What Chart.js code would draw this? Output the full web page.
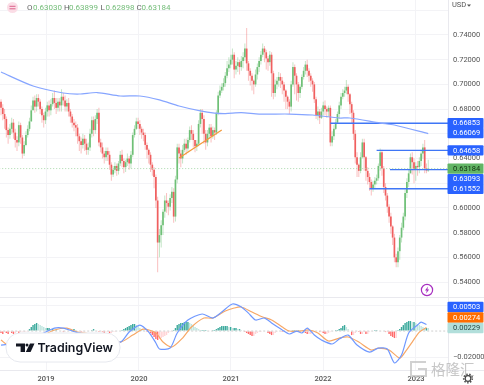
<!DOCTYPE html>
<html><head><meta charset="utf-8">
<style>html,body{margin:0;padding:0;background:#fff;overflow:hidden}canvas{display:block;filter:blur(.35px)}</style>
<script src="https://cdn.jsdelivr.net/npm/chart.js@4"></script></head>
<body><canvas id="c" width="484" height="385"></canvas>
<script>
const yearWeeks=[25.3,77.5,129.2,180.9,233.1];
const yearLabels=['2019','2020','2021','2022','2023'];
const closes=[.681,.676,.672,.663,.659,.664,.669,.661,.655,.653,
.667,.657,.644,.651,.659,.664,.670,.679,.687,.682,
.689,.686,.680,.675,.671,.678,.683,.679,.684,.689,
.685,.681,.686,.683,.690,.687,.682,.685,.678,.674,
.669,.667,.665,.658,.654,.651,.656,.652,.647,.649,
.660,.671,.663,.672,.677,.653,.649,.644,.641,.646,
.643,.635,.627,.631,.634,.630,.636,.643,.638,.633,
.637,.640,.636,.643,.659,.664,.670,.668,.664,.661,
.659,.651,.647,.643,.635,.631,.625,.606,.572,.578,
.586,.597,.606,.604,.601,.608,.613,.593,.623,.649,
.644,.640,.647,.652,.648,.655,.663,.660,.655,.650,
.652,.668,.677,.672,.660,.653,.660,.665,.658,.663,
.661,.677,.691,.695,.698,.701,.707,.713,.716,.720,
.724,.712,.715,.718,.714,.719,.722,.729,.717,.711,
.707,.703,.700,.708,.714,.719,.724,.729,.726,.721,
.718,.724,.709,.693,.700,.703,.706,.703,.700,.695,
.690,.686,.682,.700,.714,.707,.700,.693,.698,.706,
.711,.716,.711,.707,.703,.700,.688,.675,.678,.673,
.678,.683,.680,.678,.681,.653,.658,.664,.669,.676,
.683,.690,.693,.695,.698,.692,.684,.677,.660,.641,
.635,.630,.641,.653,.641,.630,.625,.621,.616,.619,
.622,.624,.634,.645,.632,.617,.610,.601,.593,.585,
.576,.560,.556,.565,.576,.584,.593,.612,.621,.628,
.641,.637,.631,.634,.633,.638,.644,.649,.632,.6303,.63184];
const highs=[.688,.684,.680,.674,.665,.668,.673,.672,.664,.658,
.670,.669,.659,.654,.662,.667,.673,.683,.690,.691,
.692,.692,.688,.682,.677,.681,.686,.687,.688,.693,
.695,.689,.689,.689,.696,.693,.691,.688,.689,.680,
.676,.672,.670,.668,.660,.657,.660,.659,.656,.653,
.664,.674,.674,.675,.680,.681,.656,.653,.646,.649,
.649,.646,.637,.634,.637,.636,.638,.646,.647,.640,
.639,.644,.642,.646,.661,.667,.673,.673,.671,.666,
.664,.661,.653,.648,.645,.637,.633,.627,.609,.583,
.590,.599,.610,.612,.606,.611,.617,.616,.626,.652,
.652,.647,.651,.656,.656,.657,.666,.667,.663,.655,
.655,.671,.680,.680,.675,.663,.663,.668,.668,.666,
.665,.679,.694,.699,.701,.705,.710,.719,.722,.724,
.729,.726,.719,.722,.720,.723,.726,.733,.7457,.719,
.713,.709,.704,.712,.717,.722,.727,.733,.731,.728,
.723,.727,.726,.711,.704,.706,.710,.709,.706,.702,
.696,.691,.688,.703,.718,.716,.709,.702,.700,.708,
.714,.719,.720,.713,.709,.705,.702,.690,.682,.680,
.681,.686,.687,.682,.683,.683,.662,.667,.672,.678,
.686,.693,.696,.698,.7035,.700,.693,.686,.679,.663,
.645,.636,.645,.656,.656,.642,.633,.628,.623,.622,
.625,.627,.636,.648,.647,.634,.620,.612,.603,.596,
.586,.579,.563,.568,.578,.588,.596,.615,.624,.631,
.644,.645,.640,.637,.638,.641,.647,.652,.655,.636,.63899];
const lows=[.675,.671,.664,.657,.652,.656,.660,.656,.649,.646,
.650,.652,.640,.642,.650,.657,.662,.670,.679,.677,
.678,.682,.676,.669,.665,.668,.674,.674,.675,.682,
.680,.676,.678,.678,.678,.683,.678,.678,.674,.669,
.665,.662,.658,.652,.646,.644,.648,.646,.643,.643,
.646,.657,.658,.660,.668,.650,.645,.640,.636,.638,
.638,.631,.622,.625,.628,.626,.627,.634,.633,.628,
.629,.634,.631,.632,.641,.657,.663,.664,.659,.656,
.654,.647,.640,.636,.629,.626,.616,.600,.548,.560,
.568,.578,.592,.596,.594,.598,.604,.588,.589,.620,
.636,.633,.636,.645,.643,.645,.653,.655,.649,.645,
.646,.650,.665,.660,.652,.647,.650,.656,.653,.656,
.655,.659,.675,.689,.693,.695,.698,.705,.710,.713,
.716,.705,.708,.710,.708,.711,.713,.719,.711,.703,
.699,.695,.692,.698,.704,.710,.716,.722,.718,.712,
.711,.715,.690,.688,.690,.696,.698,.697,.692,.686,
.680,.680,.676,.678,.698,.692,.687,.686,.689,.696,
.704,.708,.706,.702,.698,.694,.685,.672,.671,.668,
.672,.675,.675,.673,.674,.650,.650,.655,.663,.668,
.672,.680,.688,.690,.692,.686,.676,.668,.655,.636,
.625,.625,.628,.640,.630,.622,.619,.614,.610,.613,
.616,.619,.622,.630,.626,.612,.606,.596,.588,.579,
.570,.556,.552,.552,.558,.572,.582,.590,.608,.617,
.628,.627,.620,.622,.626,.628,.634,.640,.628,.628,.62898];
const maWeeks=[0,18,35,44,54,67,78,89,100,112,120,126,135,145,162,175,190,196,213,221,240];
const maValues=[.7100,.6987,.6930,.6922,.6934,.6906,.6906,.6874,.6825,.6785,.6768,.6764,.6771,.6760,.6760,.6752,.6728,.6728,.6687,.6671,.6601];
const trendWeeks=[100,124];
const trendValues=[.6404,.6631];
const levelValues=[.66853,.64658,.63093,.61552];
const levelStarts=[185,211,218.5,207];
const lastClose=.63184;
const macdWeeks=[0,13,24,30,35,42,53,67,72,78,83,87,89,95,99,105,113,119,124,130,135,139,143,148,152,158,162,166,169,172,176,180,186,190,195,200,207,212,217,221,225,229,234,236,239];
const macdValues=[-.0108,-.0085,-.0015,.0023,.0023,-.0008,-.0038,-.0085,-.0008,.0046,-.0008,-.0092,-.0138,-.0131,-.0015,.0085,.0131,.0100,.0146,.0208,.0185,.0138,.0085,.0100,.0062,.0008,-.0023,0,-.0015,.0023,-.0031,-.0069,-.0100,-.0062,-.0031,-.0108,-.0162,-.0131,-.0138,-.0246,-.0185,-.0015,.0046,.0069,.00503];
const signalWeeks=[0,4,13,24,30,37,43,55,67,74,80,87,91,96,102,107,114,119,126,131,135,141,147,152,158,162,168,173,178,184,190,195,201,208,212,218,224,227,231,235,239];
const signalValues=[-.0069,-.0108,-.0100,-.0031,.0008,.0023,-.0008,-.0031,-.0085,-.0031,.0015,-.0015,-.0085,-.0123,-.0054,.0031,.0100,.0100,.0154,.0177,.0185,.0146,.0108,.0085,.0031,0,0,.0008,-.0015,-.0077,-.0054,-.0046,-.0085,-.0146,-.0131,-.0146,-.0208,-.0162,-.0085,-.0008,.00274];
const histValues=[-.0015,-.0023,-.0008,-.0015,-.0023,-.0008,-.0015,-.0023,-.0015,-.0008,-.0015,-.0008,-.0008,-.0008,-.0008,-.0004,
.0015,.0031,.0046,.0054,.0062,
.0054,.0046,.0038,.0031,.0023,.0023,.0023,.0015,
.0015,.0008,.0008,.0004,-.0004,-.0004,-.0008,-.0008,-.0004,-.0004,.0004,.0008,.0015,.0008,.0004,-.0004,-.0008,-.0008,-.0008,-.0004,-.0004,.0004,
.0008,.0015,
.0004,-.0004,-.0008,-.0004,
-.0008,-.0015,-.0008,-.0008,-.0015,-.0015,-.0008,-.0008,-.0004,-.0004,-.0004,
.0008,.0015,.0023,.0031,.0038,.0046,.0054,.0054,
.0046,.0038,.0023,.0015,.0008,
-.0004,-.0008,-.0008,
-.0015,-.0031,-.0046,-.0062,-.0069,
-.0062,-.0054,-.0046,-.0038,-.0031,-.0015,-.0008,
.0004,.0008,
.0023,.0046,.0054,.0062,.0062,.0069,.0069,.0069,
.0062,.0054,.0038,.0031,.0023,.0015,.0008,.0008,.0008,.0008,.0004,.0004,.0004,.0008,
.0008,.0015,.0023,.0031,.0038,.0038,.0038,.0038,.0031,.0031,.0023,
.0023,.0023,.0015,.0015,.0008,
-.0004,-.0008,-.0015,-.0023,-.0031,-.0038,-.0038,-.0023,-.0015,
-.0008,-.0008,-.0004,-.0004,-.0004,
-.0015,-.0023,-.0031,-.0031,-.0015,-.0008,
-.0004,-.0004,-.0008,-.0008,-.0008,-.0004,-.0004,
.0004,.0008,.0008,.0004,.0008,.0004,.0004,-.0004,
-.0015,-.0023,-.0023,-.0023,-.0015,-.0008,-.0004,-.0004,
-.0008,-.0008,-.0015,-.0023,-.0023,-.0015,-.0008,-.0004,.0004,.0008,
.0008,.0015,.0023,.0038,.0046,.0031,.0015,.0004,
-.0031,-.0031,-.0015,-.0004,-.0008,
-.0023,-.0023,-.0008,-.0023,-.0023,-.0008,
-.0004,.0004,.0008,.0008,.0004,.0004,-.0004,-.0004,-.0008,
-.0008,-.0023,-.0038,-.0046,-.0054,-.0054,
.0008,.0015,.0031,.0046,.0062,.0069,.0077,.0077,.0069,.0069,.0062,.0054,.0046,.0038,.0031,.0023,.0023,.00229];

const GREEN='#6fc077',RED='#f05f5f',GREENW='rgba(111,192,119,.42)',REDW='rgba(240,103,103,.42)';
const opens=closes.map((c,i)=>i?closes[i-1]:.686);
opens[opens.length-1]=.6303;
const isUp=closes.map((c,i)=>c>=opens[i]);
const pts=(xs,ys)=>xs.map((x,i)=>({x,y:ys[i]}));
const lineDs=(data,color,yAxisID,extra)=>Object.assign({type:'line',data,borderColor:color,borderWidth:1.2,pointRadius:0,tension:0.25,yAxisID,order:2},extra||{});
const noPad=s=>{s.paddingTop=s.paddingBottom=s.paddingLeft=s.paddingRight=0;};

const datasets=[
 {type:'bar',data:closes.map((c,i)=>({x:i,y:[lows[i],highs[i]]})),backgroundColor:isUp.map(u=>u?GREENW:REDW),barThickness:1,grouped:false,yAxisID:'y',order:6,inflateAmount:0},
 {type:'bar',data:closes.map((c,i)=>({x:i,y:[opens[i],c]})),backgroundColor:isUp.map(u=>u?GREEN:RED),barThickness:1.7,grouped:false,yAxisID:'y',order:5,inflateAmount:0},
 {type:'bar',data:histValues.map((v,i)=>({x:i,y:v})),backgroundColor:histValues.map((v,i)=>{const p=i?histValues[i-1]:0;return v>=0?(v>=p?'#3aa99c':'#bfe5df'):(v<p?'#ff6b6b':'#ffd3d6');}),barThickness:1.4,grouped:false,yAxisID:'yM',order:4,inflateAmount:0},
 lineDs(pts(maWeeks,maValues),'#86a5ff','y'),
 lineDs(pts(trendWeeks,trendValues),'#f39a3c','y',{tension:0,borderWidth:1.3}),
 lineDs([{x:-1,y:lastClose},{x:252,y:lastClose}],'#a9d8ab','y',{tension:0,borderWidth:1,borderDash:[1,2]}),
 lineDs([{x:-1,y:0},{x:252,y:0}],'#cfcfcf','yM',{tension:0,borderWidth:1,borderDash:[2,2]}),
 lineDs(pts(signalWeeks,signalValues),'#f7a765','yM',{order:1}),
 lineDs(pts(macdWeeks,macdValues),'#6f98ff','yM',{order:0}),
];
levelValues.forEach((v,i)=>datasets.push(lineDs([{x:levelStarts[i],y:v},{x:252,y:v}],'#3f76f6','y',{tension:0,borderWidth:1.3})));

const AXIS='7.5px Roboto';
const priceTags=[[.66853,'0.66853',0],[.66069,'0.66069',0],[.64658,'0.64658',0],[.61552,'0.61552',0],[.63093,'0.63093',9.5]];
const macdTags=[[.00503,'0.00503','#2962ff','#fff',-17.5],[.00274,'0.00274','#ff6d00','#fff',-10],[.00229,'0.00229','#b2dfdb','#2a4a46',0]];

const overlay={id:'overlay',afterDraw(ch){
 const g=ch.ctx,Y=ch.scales.y,M=ch.scales.yM,A=ch.chartArea,W=ch.width;
 g.save();
 g.strokeStyle='#e9e9ee';g.lineWidth=1;
 g.beginPath();g.moveTo(0,Y.bottom+.5);g.lineTo(W,Y.bottom+.5);g.moveTo(0,A.bottom+.5);g.lineTo(W,A.bottom+.5);g.moveTo(A.right+.5,0);g.lineTo(A.right+.5,A.bottom);g.stroke();
 g.fillStyle='#fff';g.fillRect(A.right+1,0,W-A.right,12.5);
 g.fillStyle='#555';g.font=AXIS;g.textBaseline='middle';g.textAlign='left';
 g.fillText('USD',452,5.5);
 g.beginPath();g.moveTo(467,4.5);g.lineTo(471,4.5);g.lineTo(469,6.8);g.closePath();g.fill();
 const tag=(yc,txt,fill,col)=>{g.fillStyle=fill;g.beginPath();g.roundRect(A.right-.5,yc-5.2,36,10.4,1);g.fill();g.fillStyle=col;g.font=AXIS;g.textAlign='left';g.fillText(txt,453,yc+.3);};
 priceTags.forEach(t=>tag(Y.getPixelForValue(t[0])+t[2],t[1],'#2962ff','#fff'));
 tag(Y.getPixelForValue(lastClose),'0.63184','#62b565','#10310f');
 macdTags.forEach(t=>tag(M.getPixelForValue(t[0])+t[4],t[1],t[2],t[3]));
 g.fillStyle='#fbdde6';g.beginPath();g.arc(12.5,7.5,5.5,0,7);g.fill();
 g.strokeStyle='#d8517f';g.lineWidth=.9;g.beginPath();g.moveTo(9.5,6.3);g.lineTo(15.5,6.3);g.moveTo(9.5,8.8);g.lineTo(15.5,8.8);g.stroke();
 g.font='8px Roboto';g.textAlign='left';
 [['O',27,'0.63030',33],['H',64,'0.63899',69],['L',100.5,'0.62898',105.5],['C',136.5,'0.63184',141.5]].forEach(r=>{
  g.fillStyle='#666';g.fillText(r[0],r[1],8);g.fillStyle='#74bd79';g.fillText(r[2],r[3],8);});
 g.fillStyle='#fff';g.strokeStyle='#e6e8ee';g.lineWidth=1;g.beginPath();g.roundRect(6,333,114,29,14);g.fill();g.stroke();
 g.fillStyle='#131722';
 g.beginPath();g.moveTo(16,343.4);g.lineTo(25,343.4);g.lineTo(25,352);g.lineTo(20.6,352);g.lineTo(20.6,346.6);g.lineTo(16,346.6);g.closePath();g.fill();
 g.beginPath();g.arc(27,345,1.5,0,7);g.fill();
 g.beginPath();g.moveTo(30,343.4);g.lineTo(34.5,343.4);g.lineTo(30.6,352);g.lineTo(25.8,352);g.closePath();g.fill();
 g.font='600 12.4px Inter, Roboto';g.fillText('TradingView',37.5,348.5);
 g.strokeStyle='#a72fc0';g.lineWidth=1.2;g.beginPath();g.arc(427,290,5.6,0,7);g.stroke();
 g.fillStyle='#a72fc0';g.beginPath();g.moveTo(428,286.5);g.lineTo(425,290.5);g.lineTo(426.8,290.5);g.lineTo(426,293.5);g.lineTo(429.2,289.4);g.lineTo(427.4,289.4);g.closePath();g.fill();
 g.strokeStyle='rgba(190,190,190,.7)';g.lineWidth=2;g.beginPath();g.moveTo(426,362);g.lineTo(411,362);g.lineTo(411,376);g.lineTo(426,376);g.lineTo(426,369);g.lineTo(418,369);g.stroke();
 g.fillStyle='rgba(175,175,175,.7)';g.font='14.5px "Noto Sans CJK SC"';g.textAlign='left';g.fillText('格隆汇',431,369);
 g.strokeStyle='#444';g.lineWidth=1.2;g.beginPath();g.arc(468,378.5,2.8,0,7);g.stroke();
 g.setLineDash([1.4,1.6]);g.lineWidth=1.6;g.beginPath();g.arc(468,378.5,4.3,0,7);g.stroke();g.setLineDash([]);
 g.restore();
}};

new Chart(document.getElementById('c'),{
 type:'bar',
 data:{datasets},
 plugins:[overlay],
 options:{responsive:false,animation:false,events:[],
  layout:{padding:0},
  plugins:{legend:{display:false},tooltip:{enabled:false},title:{display:false}},
  scales:{
   x:{type:'linear',position:'bottom',offset:false,min:-.56,max:251.1,
    afterBuildTicks(s){s.ticks=yearWeeks.map(v=>({value:v}));},
    afterFit(s){s.height=15;noPad(s);},
    grid:{color:'#f3f3f6',drawTicks:false,tickLength:0,offset:false},border:{display:false},
    ticks:{callback:(v)=>yearLabels[yearWeeks.indexOf(v)],autoSkip:false,maxRotation:0,padding:4.5,color:'#555',font:{family:'Roboto',size:7.5,weight:'500'}}},
   y:{type:'linear',position:'right',stack:'p',stackWeight:297,min:.5279,max:.7683,
    afterFit(s){s.width=36;noPad(s);},
    grid:{color:'#f3f3f6',drawTicks:false,tickLength:0},border:{display:false},
    ticks:{stepSize:.02,includeBounds:false,padding:5,color:'#555',crossAlign:'near',font:{family:'Roboto',size:7.5},callback:v=>v.toFixed(5)}},
   yM:{type:'linear',position:'right',stack:'p',stackWeight:73,min:-.03,max:.0262,
    afterFit(s){s.width=36;noPad(s);},
    grid:{color:c=>Math.abs(c.tick.value)<1e-6?'transparent':'#f3f3f6',drawTicks:false,tickLength:0},border:{display:false},
    ticks:{stepSize:.02,includeBounds:false,padding:5,color:'#555',crossAlign:'near',font:{family:'Roboto',size:7.5},callback:v=>(v<-1e-6?'\u2212':'')+Math.abs(v).toFixed(5)}}
  }
 }
});
</script></body></html>
